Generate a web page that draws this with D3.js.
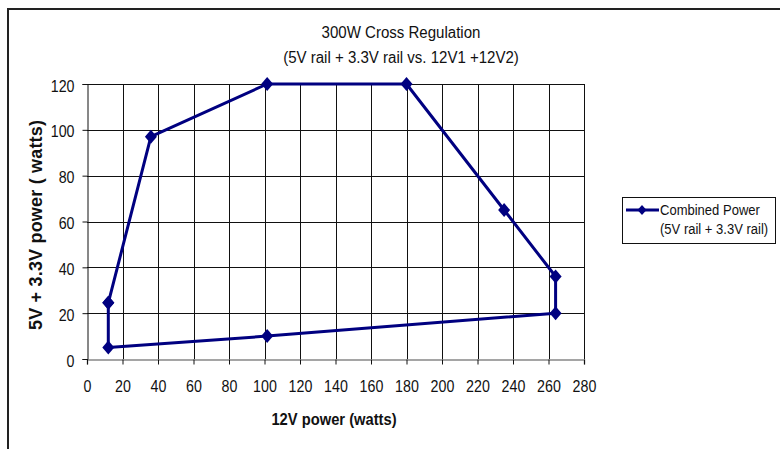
<!DOCTYPE html>
<html>
<head>
<meta charset="utf-8">
<script src="https://cdn.jsdelivr.net/npm/d3@7"></script>
<style>
  html, body { margin: 0; padding: 0; background: #fff; }
  svg { display: block; font-family: "Liberation Sans", Arial, sans-serif; }
</style>
</head>
<body>
<svg id="chart" width="780" height="449"></svg>
<script>
const titleLines = ["300W Cross Regulation", "(5V rail + 3.3V rail vs. 12V1 +12V2)"];
const xTitle = "12V power (watts)";
const yTitle = "5V + 3.3V power ( watts)";
const seriesName = ["Combined Power", "(5V rail + 3.3V rail)"];
const xValues = [12, 36, 101.5, 180, 235, 264, 264, 101.5, 12, 12];
const yValues = [24.5, 97, 120, 120, 65, 36, 20, 10, 5, 24.5];
const xTicks = [0, 20, 40, 60, 80, 100, 120, 140, 160, 180, 200, 220, 240, 260, 280];
const yTicks = [0, 20, 40, 60, 80, 100, 120];

const svg = d3.select("#chart");
const x = d3.scaleLinear().domain([0, 280]).range([87, 584]);
const y = d3.scaleLinear().domain([0, 120]).range([359, 84]);
const navy = "#000080";

function squeeze(sel, f) {
  sel.each(function () {
    const len = this.getComputedTextLength();
    d3.select(this).attr("textLength", len * f).attr("lengthAdjust", "spacingAndGlyphs");
  });
}

// outer border
svg.append("rect").attr("x", 8).attr("y", 9).attr("width", 800).attr("height", 500)
  .attr("fill", "none").attr("stroke", "#222").attr("stroke-width", 2);

// grid
const g = svg.append("g");
g.selectAll("line.v").data(xTicks.filter(d => d > 0)).join("line")
  .attr("x1", d => Math.round(x(d)) + 0.5).attr("x2", d => Math.round(x(d)) + 0.5)
  .attr("y1", y(120)).attr("y2", y(0))
  .attr("stroke", "#111").attr("stroke-width", 1);
g.selectAll("line.h").data(yTicks.filter(d => d > 0)).join("line")
  .attr("x1", x(0)).attr("x2", x(280))
  .attr("y1", d => Math.round(y(d)) + 0.5).attr("y2", d => Math.round(y(d)) + 0.5)
  .attr("stroke", "#111").attr("stroke-width", 1);

// axes
const xAxis = d3.axisBottom(x).tickValues(xTicks).tickSize(5).tickPadding(0).tickFormat(d3.format("d"));
const xg = svg.append("g").attr("transform", `translate(0,${Math.round(y(0)) + 0.5})`).call(xAxis);
xg.select(".domain").attr("stroke", "#888").attr("stroke-width", 1.5);
xg.selectAll(".tick line").attr("stroke", "#111");
xg.selectAll(".tick text").attr("font-size", 16).attr("fill", "#111")
  .attr("y", 0).attr("dy", 32.5).attr("font-family", "Liberation Sans, Arial, sans-serif");
squeeze(xg.selectAll(".tick text"), 0.89);

const yAxis = d3.axisLeft(y).tickValues(yTicks).tickSize(5).tickPadding(0).tickFormat(d3.format("d"));
const yg = svg.append("g").attr("transform", `translate(${Math.round(x(0)) + 0.5},0)`).call(yAxis);
yg.select(".domain").attr("stroke", "#111").attr("stroke-width", 1);
yg.selectAll(".tick line").attr("stroke", "#111");
yg.selectAll(".tick text").attr("font-size", 16).attr("fill", "#111")
  .attr("x", -13).attr("dy", 7).attr("font-family", "Liberation Sans, Arial, sans-serif");
squeeze(yg.selectAll(".tick text"), 0.89);

// titles
const tt = svg.append("g").attr("font-size", 16).attr("fill", "#111").attr("text-anchor", "middle");
tt.selectAll("text").data(titleLines).join("text")
  .attr("x", 401).attr("y", (d, i) => 38 + i * 24.5).text(d => d);
squeeze(tt.selectAll("text"), 0.94);

const xt = svg.append("text").attr("x", 334).attr("y", 425).attr("text-anchor", "middle")
  .attr("font-size", 16).attr("font-weight", "bold").attr("fill", "#111").text(xTitle);
squeeze(xt, 0.92);

svg.append("text").attr("transform", "translate(42,225) rotate(-90)").attr("text-anchor", "middle")
  .attr("font-size", 18).attr("font-weight", "bold").attr("fill", "#111")
  .attr("textLength", 210).attr("lengthAdjust", "spacing").text(yTitle);

// series
const pts = xValues.map((v, i) => [v, yValues[i]]);
svg.append("path").datum(pts)
  .attr("d", d3.line().x(d => x(d[0])).y(d => y(d[1])))
  .attr("fill", "none").attr("stroke", navy).attr("stroke-width", 3).attr("stroke-linejoin", "round");

const diamond = (w, h) => `M0,${-h}L${w},0L0,${h}L${-w},0Z`;
svg.selectAll("path.m").data(pts).join("path").attr("class", "m")
  .attr("transform", d => `translate(${x(d[0])},${y(d[1])})`)
  .attr("d", diamond(6, 7)).attr("fill", navy);

// legend
const lg = svg.append("g");
lg.append("rect").attr("x", 622.5).attr("y", 197.5).attr("width", 153).attr("height", 46)
  .attr("fill", "#fff").attr("stroke", "#111").attr("stroke-width", 1);
lg.append("line").attr("x1", 626).attr("x2", 659).attr("y1", 210).attr("y2", 210)
  .attr("stroke", navy).attr("stroke-width", 3);
lg.append("path").attr("transform", "translate(642,210)").attr("d", diamond(4.5, 5)).attr("fill", navy);
const lt = lg.append("g").attr("font-size", 14).attr("fill", "#111");
lt.selectAll("text").data(seriesName).join("text")
  .attr("x", 660).attr("y", (d, i) => 215 + i * 19).text(d => d);
squeeze(lt.selectAll("text"), 0.93);
</script>
</body>
</html>
